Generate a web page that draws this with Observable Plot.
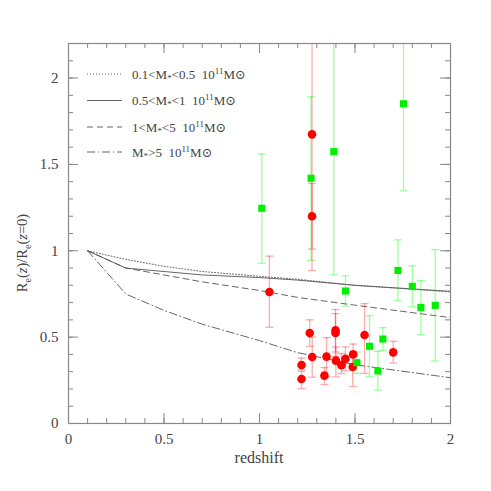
<!DOCTYPE html>
<html><head><meta charset="utf-8">
<script src="https://cdn.jsdelivr.net/npm/d3@7"></script>
<script src="https://cdn.jsdelivr.net/npm/@observablehq/plot@0.6"></script>
<style>
body{margin:0;background:#fff;}
#wrap{position:relative;width:491px;height:491px;}
</style></head><body><div id="wrap"></div>
<script>
// Model curves
const modelZ   = [0.1, 0.3, 0.5, 0.7, 1.0, 1.2, 1.5, 2.0];
const dotted   = [1.0, 0.95, 0.91, 0.88, 0.852, 0.835, 0.80, 0.762];
const solid    = [1.0, 0.90, 0.88, 0.86, 0.845, 0.83, 0.80, 0.765];
const dashed   = [1.0, 0.90, 0.86, 0.82, 0.77, 0.73, 0.685, 0.613];
const dashdot  = [1.0, 0.75, 0.655, 0.575, 0.48, 0.41, 0.34, 0.265];
// Red circles
const redZ  = [1.052,1.263,1.22,1.22,1.276,1.275,1.275,1.34,1.351,1.398,1.398,1.40,1.429,1.45,1.49,1.488,1.55,1.70];
const redR  = [0.761,0.524,0.339,0.258,0.385,1.674,1.20,0.277,0.387,0.539,0.524,0.364,0.337,0.374,0.40,0.327,0.512,0.412];
const redLo = [0.557,0.447,0.312,0.202,0.268,0.886,1.01,0.225,0.27,0.414,0.389,0.27,0.289,0.304,0.347,0.214,0.29,0.35];
const redHi = [0.969,0.60,0.379,0.302,0.50,2.5,1.39,0.324,0.497,0.66,0.636,0.443,0.405,0.443,0.46,0.395,0.694,0.476];
// Green squares
const grnZ  = [1.012,1.27,1.389,1.754,1.725,1.45,1.80,1.845,1.92,1.576,1.646,1.51,1.62];
const grnR  = [1.246,1.42,1.574,1.851,0.886,0.767,0.794,0.672,0.684,0.447,0.489,0.352,0.304];
const grnLo = [0.928,0.944,0.861,1.347,0.713,0.68,0.676,0.514,0.362,0.273,0.424,0.289,0.193];
const grnHi = [1.56,1.892,2.5,2.5,1.063,0.855,0.913,0.828,1.006,0.624,0.555,0.414,0.418];
// Ticks
const xTicks = [0, 0.5, 1, 1.5, 2];
const yTicks = [0, 0.5, 1, 1.5, 2];
const xMinor = d3.range(0, 21).map(i => i / 10);
const yMinor = d3.range(0, 23).map(i => i / 10);
const legendLabels = [
  {pre:"0.1<M", mid:"<0.5  10", dash:"1,2"},
  {pre:"0.5<M", mid:"<1  10", dash:null},
  {pre:"1<M", mid:"<5  10", dash:"6,4"},
  {pre:"M", mid:">5  10", dash:"8,3,1,3"}
];

const curves = [
  {vals: dotted, dash:"1,2"},
  {vals: solid, dash:null},
  {vals: dashed, dash:"6,4"},
  {vals: dashdot, dash:"8,3,1,3"}
];
const red = redZ.map((z,i)=>({z, r:redR[i], lo:redLo[i], hi:redHi[i]}));
const grn = grnZ.map((z,i)=>({z, r:grnR[i], lo:grnLo[i], hi:grnHi[i]}));

const W = 491, H = 491, mL = 68, mR = 41, mT = 43, mB = 68;
const fh = H - mT - mB;
const fw = W - mL - mR;
const cap = {draw(ctx, size){const r = Math.sqrt(size/Math.PI); ctx.moveTo(-r,0); ctx.lineTo(r,0);}};
const axisCol = "#888";
const redBar = "rgba(255,0,0,0.33)";
const grnBar = "rgba(0,255,0,0.38)";

const marks = [];
curves.forEach(c => {
  marks.push(Plot.line(modelZ.map((z,i)=>({z, v:c.vals[i]})), {x:"z", y:"v", stroke:"#555", strokeWidth:0.9, strokeDasharray:c.dash}));
});
marks.push(
  Plot.ruleX(grn, {x:"z", y1:"lo", y2:"hi", stroke:grnBar, strokeWidth:1.3, clip:true}),
  Plot.dot(grn, {x:"z", y:"lo", symbol:cap, r:4, stroke:grnBar, strokeWidth:1.3, clip:true}),
  Plot.dot(grn, {x:"z", y:"hi", symbol:cap, r:4, stroke:grnBar, strokeWidth:1.3, clip:true}),
  Plot.ruleX(red, {x:"z", y1:"lo", y2:"hi", stroke:redBar, strokeWidth:1.3, clip:true}),
  Plot.dot(red, {x:"z", y:"lo", symbol:cap, r:4, stroke:redBar, strokeWidth:1.3, clip:true}),
  Plot.dot(red, {x:"z", y:"hi", symbol:cap, r:4, stroke:redBar, strokeWidth:1.3, clip:true}),
  Plot.dot(red, {x:"z", y:"r", r:4.3, fill:"#ff0000", stroke:"none"}),
  Plot.dot(grn, {x:"z", y:"r", symbol:"square", r:4, fill:"#00ee00", stroke:"none"}),
  // inside ticks
  Plot.tickX(xMinor, {x:d=>d, stroke:axisCol, insetTop: fh-5}),
  Plot.tickX(xTicks, {x:d=>d, stroke:axisCol, insetTop: fh-10}),
  Plot.tickX(xMinor, {x:d=>d, stroke:axisCol, insetBottom: fh-5}),
  Plot.tickX(xTicks, {x:d=>d, stroke:axisCol, insetBottom: fh-10}),
  Plot.tickY(yMinor, {y:d=>d, stroke:axisCol, insetRight: fw-5}),
  Plot.tickY(yTicks, {y:d=>d, stroke:axisCol, insetRight: fw-10}),
  Plot.tickY(yMinor, {y:d=>d, stroke:axisCol, insetLeft: fw-5}),
  Plot.tickY(yTicks, {y:d=>d, stroke:axisCol, insetLeft: fw-10}),
  Plot.frame({stroke:axisCol, strokeWidth:1.2}),
  Plot.axisX(xTicks, {tickSize:0, tickPadding:10, label:null, tickFormat:d=>String(d), fontSize:15}),
  Plot.axisY(yTicks, {tickSize:0, tickPadding:10, label:null, tickFormat:d=>String(d), fontSize:15})
);

const chart = Plot.plot({
  width: W, height: H,
  marginLeft: mL, marginRight: mR, marginTop: mT, marginBottom: mB,
  x: {domain:[0,2]},
  y: {domain:[0,2.2]},
  style: {fontFamily:"'Liberation Serif', 'DejaVu Serif', serif", fontSize:"15px", color:"#444", background:"#fff"},
  marks
});
document.getElementById("wrap").appendChild(chart);

const svg = d3.select(chart);
const font = "'Liberation Serif', 'DejaVu Serif', serif";
// x title
svg.append("text").attr("x", mL + fw/2).attr("y", 463).attr("text-anchor","middle")
  .attr("font-family", font).attr("font-size", 16).attr("fill","#444").text("redshift");
// y title
const yt = svg.append("text").attr("transform", `translate(27,253) rotate(-90)`)
  .attr("text-anchor","middle").attr("font-family", font).attr("font-size", 14.5).attr("fill","#444");
yt.append("tspan").text("R");
yt.append("tspan").attr("font-size", 10).attr("dy", 4).text("e");
yt.append("tspan").attr("dy", -4).text("(");
yt.append("tspan").attr("font-style","italic").text("z");
yt.append("tspan").text(")/R");
yt.append("tspan").attr("font-size", 10).attr("dy", 4).text("e");
yt.append("tspan").attr("dy", -4).text("(");
yt.append("tspan").attr("font-style","italic").text("z");
yt.append("tspan").text("=0)");

// legend
const rowsY = [74, 100.5, 127, 152];
legendLabels.forEach((d, i) => {
  const y = rowsY[i];
  svg.append("line").attr("x1", 87).attr("x2", 122).attr("y1", y).attr("y2", y)
    .attr("stroke", "#555").attr("stroke-width", 0.9).attr("stroke-dasharray", d.dash);
  const t = svg.append("text").attr("x", 132).attr("y", y + 4.5).attr("text-anchor", "start")
    .attr("font-family", font).attr("font-size", 13).attr("fill", "#444");
  t.append("tspan").text(d.pre);
  t.append("tspan").attr("font-size", 9).attr("dy", 2).text("*");
  t.append("tspan").attr("dy", -2).attr("xml:space","preserve").text(d.mid);
  t.append("tspan").attr("font-size", 9).attr("dy", -5).text("11");
  t.append("tspan").attr("dy", 5).text("M\u2299");
});
</script></body></html>
